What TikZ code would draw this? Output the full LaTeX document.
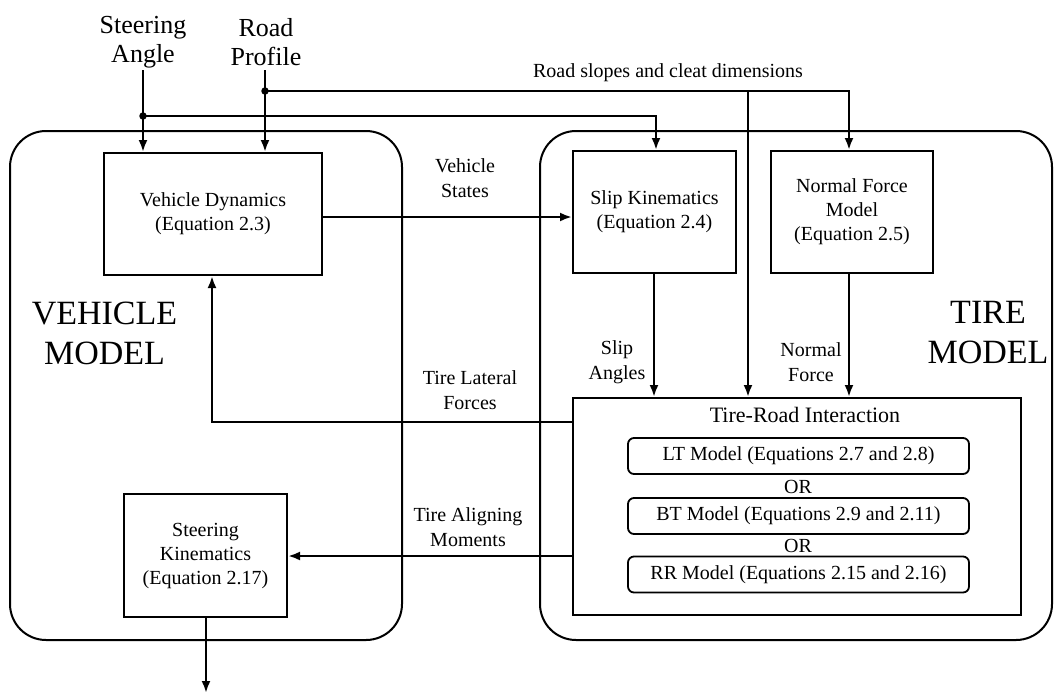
\documentclass[tikz,border=0pt]{standalone}
\usepackage{fontspec}
\setmainfont{Liberation Serif}
\usetikzlibrary{arrows.meta}
\begin{document}
\begin{tikzpicture}[x=1pt,y=-1pt,
  box/.style={draw, line width=2pt, align=center, inner sep=0pt, font=\fontsize{20}{24}\selectfont},
  outer/.style={draw, line width=2pt, rounded corners=36pt, inner sep=0pt},
  mbox/.style={draw, line width=1.8pt, rounded corners=6pt, minimum width=341pt, minimum height=36pt, inner sep=0pt, font=\fontsize{20}{24}\selectfont},
  arr/.style={line width=2.5pt, -{Latex[length=12pt,width=9pt]}},
  lbl/.style={align=center, inner sep=0pt, font=\fontsize{20}{24.5}\selectfont},
  toplbl/.style={align=center, inner sep=0pt, font=\fontsize{26}{29}\selectfont},
  big/.style={align=center, inner sep=0pt, font=\fontsize{34}{40}\selectfont},
  jdot/.style={circle, fill, inner sep=0pt, minimum size=7.5pt}]
\useasboundingbox (0,0) rectangle (1060,694);

% outer model regions
\node[outer, minimum width=392pt, minimum height=509pt] (vm) at (206,385.5) {};
\node[outer, minimum width=512pt, minimum height=509pt] (tm) at (796,385.5) {};
\node[big] (vmlabel) at (104.5,333) {VEHICLE\\MODEL};
\node[big] (tmlabel) at (988,333) {TIRE\\MODEL};

% blocks
\node[box, minimum width=218pt, minimum height=122pt] (vd) at (213,214) {Vehicle Dynamics\\(Equation 2.3)};
\node[box, minimum width=163pt, minimum height=122pt] (sk) at (654.5,212) {Slip Kinematics\\(Equation 2.4)};
\node[box, minimum width=162pt, minimum height=122pt] (nf) at (852,212) {Normal Force\\Model\\(Equation 2.5)};
\node[box, minimum width=448pt, minimum height=217pt] (tri) at (797,506.5) {};
\node[lbl, font=\fontsize{22}{26}\selectfont] (trilabel) at (805,415) {Tire-Road Interaction};
\node[mbox] (lt) at (798.5,456) {LT Model (Equations 2.7 and 2.8)};
\node[lbl] (or1) at (798,487) {OR};
\node[mbox] (bt) at (798.5,516) {BT Model (Equations 2.9 and 2.11)};
\node[lbl] (or2) at (798,545.5) {OR};
\node[mbox] (rr) at (798.5,574.5) {RR Model (Equations 2.15 and 2.16)};
\node[box, minimum width=163pt, minimum height=123pt] (stk) at (205.5,555.5) {Steering\\Kinematics\\(Equation 2.17)};

% inputs
\node[toplbl] (sa) at (143,42) {Steering\\Angle};
\node[toplbl] (rp) at (266,42) {Road\\Profile};
\coordinate (saend) at (143,70);
\coordinate (rpend) at (265,70);
\node[jdot] (sadot) at (143,116) {};
\node[jdot] (rpdot) at (265,91) {};
\coordinate (rpbranch) at (748,91);

\draw[arr] (saend) -- (vd.north -| saend);
\draw[arr] (rpend) -- (vd.north -| rpend);
\draw[arr] (sadot.center) -- (656,116) -- (sk.north -| 656,0);
\draw[arr] (rpdot.center) -- (849,91) -- (nf.north -| 849,0);
\draw[arr] (rpbranch) -- (tri.north -| rpbranch);
\node[lbl] (rslabel) at (668,73) {Road slopes and cleat dimensions};

% vehicle states
\draw[arr] (vd.east |- 0,217) -- (sk.west |- 0,217);
\node[lbl] (vslabel) at (465,178) {Vehicle\\States};

% slip angles, normal force
\draw[arr] (sk.south -| 654,0) -- (tri.north -| 654,0);
\node[lbl] (salabel) at (617,362) {Slip\\Angles};
\draw[arr] (nf.south -| 849,0) -- (tri.north -| 849,0);
\node[lbl] (nflabel) at (811,362) {Normal\\Force};

% tire lateral forces
\draw[arr] (tri.west |- 0,422) -- (212,422) -- (vd.south -| 212,0);
\node[lbl] (tlflabel) at (470,390) {Tire Lateral\\Forces};

% tire aligning moments
\draw[arr] (tri.west |- 0,556) -- (stk.east |- 0,556);
\node[lbl] (tamlabel) at (468,527) {Tire Aligning\\Moments};

% output
\coordinate (outend) at (206,693);
\draw[arr] (stk.south -| outend) -- (outend);
\end{tikzpicture}
\end{document}
